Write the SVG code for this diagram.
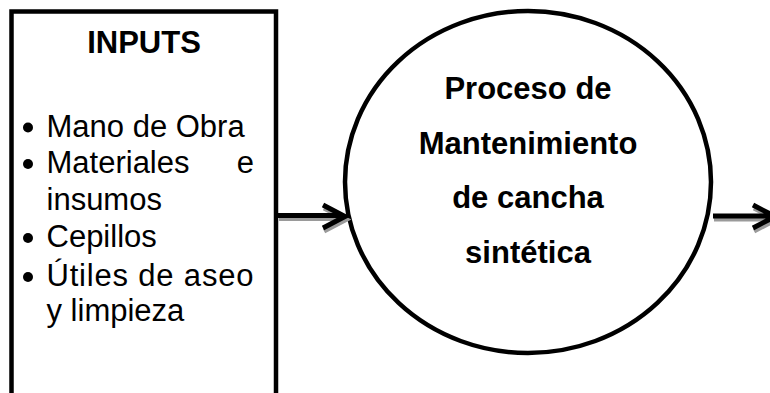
<svg xmlns="http://www.w3.org/2000/svg" width="770" height="393" viewBox="0 0 770 393">
<style>
.shape{fill:#fff;stroke:#000;stroke-width:4.5}
.t{font-family:"Liberation Sans",Arial,sans-serif;font-size:31px;fill:#000}
.b{font-weight:bold}
.ln{fill:none;stroke:#000;stroke-width:5;stroke-linejoin:miter}
.sh{fill:none;stroke:#9a9a9a;stroke-width:5;stroke-linejoin:miter}
</style>
<rect width="770" height="393" fill="#fff"/>
<g id="inputs">
<rect class="shape" x="11.5" y="11.5" width="264.5" height="400"/>
<text class="t b" x="144" y="53" text-anchor="middle">INPUTS</text>
<circle cx="28" cy="127.5" r="5"/>
<text class="t" x="46.5" y="136.5">Mano de Obra</text>
<circle cx="28" cy="164" r="5"/>
<text class="t" x="46.5" y="173">Materiales</text>
<text class="t" x="254" y="173" text-anchor="end">e</text>
<text class="t" x="46.5" y="210">insumos</text>
<circle cx="28" cy="238" r="5"/>
<text class="t" x="46.5" y="247">Cepillos</text>
<circle cx="28" cy="277" r="5"/>
<text class="t" x="46.5" y="286" textLength="207" lengthAdjust="spacing">Útiles de aseo</text>
<text class="t" x="46.5" y="321">y limpieza</text>
</g>
<g id="proceso">
<ellipse class="shape" cx="528" cy="182" rx="183" ry="171"/>
<text class="t b" x="528" y="99" text-anchor="middle">Proceso de</text>
<text class="t b" x="528" y="153.5" text-anchor="middle">Mantenimiento</text>
<text class="t b" x="528" y="208" text-anchor="middle">de cancha</text>
<text class="t b" x="528" y="262.5" text-anchor="middle">sintética</text>
</g>
<g id="connectors">
<g transform="translate(1,3)">
<path class="sh" d="M278 215.5H343M323 205L345 216.5L323 228"/>
<path class="sh" d="M713 216H772M753 205L775 216.5L753 228"/>
</g>
<path class="ln" d="M278 215.5H343M323 205L345 216.5L323 228"/>
<path class="ln" d="M713 216H772M753 205L775 216.5L753 228"/>
</g>
</svg>
